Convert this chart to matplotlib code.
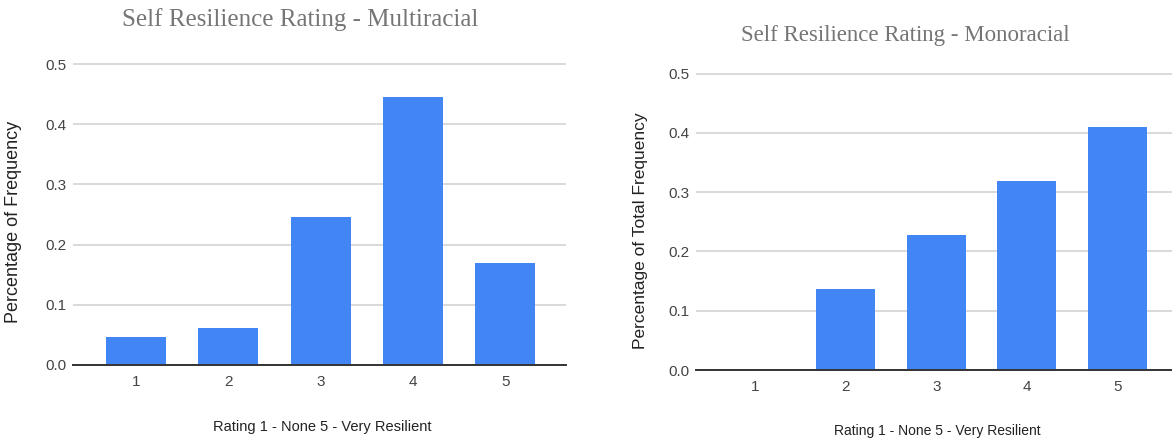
import matplotlib
matplotlib.use("Agg")
import matplotlib.pyplot as plt

# Survey results: share of respondents choosing each self-resilience rating
ratings = [1, 2, 3, 4, 5]
tick_labels = ["1", "2", "3", "4", "5"]
multiracial = [0.046, 0.061, 0.246, 0.446, 0.169]
monoracial = [0.0, 0.137, 0.227, 0.318, 0.409]
y_ticks = [0.0, 0.1, 0.2, 0.3, 0.4, 0.5]

W, H = 1172, 442
BAR_COLOR = "#4285F4"
GRID_COLOR = "#d9d9d9"
TICK_COLOR = "#444444"
TITLE_COLOR = "#757575"

fig = plt.figure(figsize=(W / 100, H / 100), dpi=100)
fig.patch.set_facecolor("white")


def px_axes(left, right, y0, px_per_unit, top_val):
    """Create axes from pixel geometry (y measured from top of figure)."""
    top = y0 - top_val * px_per_unit
    return fig.add_axes([left / W, (H - y0) / H, (right - left) / W, (y0 - top) / H])


def style(ax, values, xlim, ylabel, xlabel_size, ylabel_size):
    ax.bar(ratings, values, width=0.65, color=BAR_COLOR, zorder=3)
    ax.set_xlim(*xlim)
    ax.set_ylim(0, 0.51)
    ax.set_yticks(y_ticks)
    ax.set_yticklabels([f"{v:.1f}" for v in y_ticks])
    ax.set_xticks(ratings)
    ax.set_xticklabels(tick_labels)
    ax.grid(axis="y", color=GRID_COLOR, linewidth=1.4, zorder=0)
    ax.set_axisbelow(True)
    for side in ("top", "right", "left"):
        ax.spines[side].set_visible(False)
    ax.spines["bottom"].set_color("#333333")
    ax.spines["bottom"].set_linewidth(1.4)
    ax.spines["bottom"].set_zorder(4)
    ax.tick_params(axis="both", length=0, colors=TICK_COLOR, labelsize=11)
    ax.tick_params(axis="y", pad=5)
    ax.tick_params(axis="x", pad=7)
    for lab in ax.get_xticklabels() + ax.get_yticklabels():
        lab.set_fontfamily("Liberation Sans")
    ax.set_facecolor("white")


# Left chart: multiracial respondents
ax1 = px_axes(73, 566, 365, 602, 0.51)
style(ax1, multiracial, (0.315, 5.66), "Percentage of Frequency", 10.5, 13)

# Right chart: monoracial respondents (slightly cropped on the right)
ax2 = px_axes(696, 1176.6, 370, 593, 0.51)
style(ax2, monoracial, (0.348, 5.652), "Percentage of Total Frequency", 10, 12.5)

# Titles
fig.text(300 / W, 1 - 20 / H, "Self Resilience Rating - Multiracial",
         ha="center", va="center", fontsize=18, family="Liberation Serif",
         color=TITLE_COLOR)
fig.text(905 / W, 1 - 36 / H, "Self Resilience Rating - Monoracial",
         ha="center", va="center", fontsize=16.5, family="Liberation Serif",
         color=TITLE_COLOR)

# Axis titles
fig.text(322 / W, 1 - 427 / H, "Rating 1 - None 5 - Very Resilient",
         ha="center", va="center", fontsize=10.5, family="Liberation Sans",
         color="#222222")
fig.text(937 / W, 1 - 431 / H, "Rating 1 - None 5 - Very Resilient",
         ha="center", va="center", fontsize=10, family="Liberation Sans",
         color="#222222")
fig.text(14 / W, 1 - 222 / H, "Percentage of Frequency", rotation=90,
         ha="center", va="center", fontsize=13, family="Liberation Sans",
         color="#222222")
fig.text(640 / W, 1 - 231 / H, "Percentage of Total Frequency", rotation=90,
         ha="center", va="center", fontsize=12.5, family="Liberation Sans",
         color="#222222")

fig.savefig("out.png", dpi=100, facecolor="white")
